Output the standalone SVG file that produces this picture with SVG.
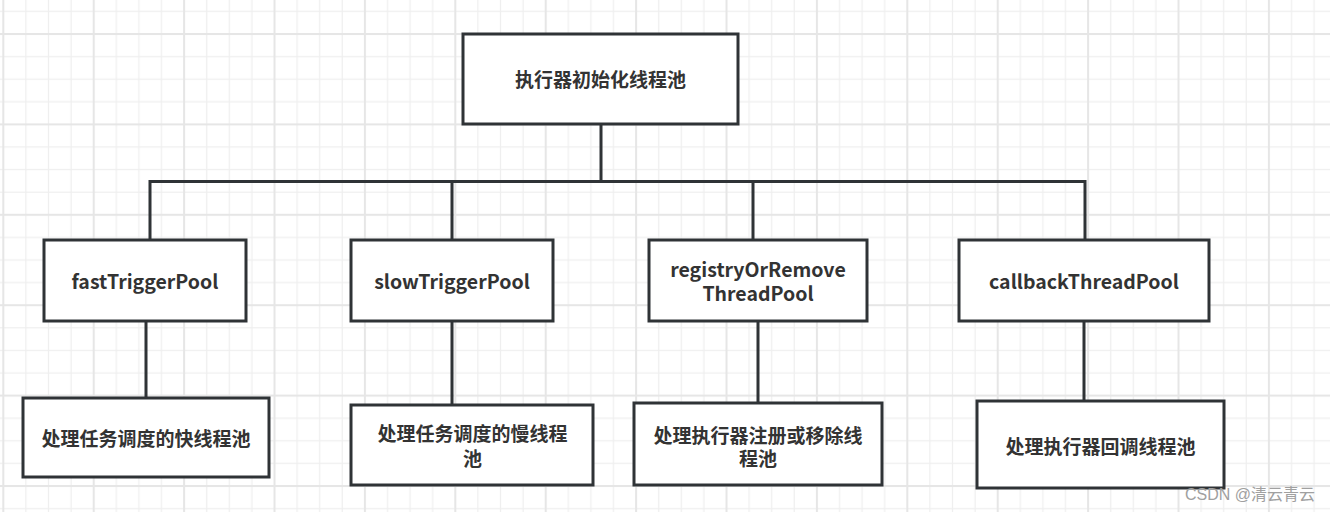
<svg xmlns="http://www.w3.org/2000/svg" width="1330" height="512" viewBox="0 0 1330 512">
<defs>
<pattern id="grid" patternUnits="userSpaceOnUse" x="2.3" y="33" width="90.4" height="90.4">
<rect x="0" y="0" width="90.4" height="90.4" fill="#ffffff"/>
<g fill="#efefef">
<rect x="22.999" y="0" width="1.2" height="90.4"/>
<rect x="45.6" y="0" width="1.2" height="90.4"/>
<rect x="68.2" y="0" width="1.2" height="90.4"/>
<rect x="0" y="23" width="90.4" height="1.2"/>
<rect x="0" y="45.6" width="90.4" height="1.2"/>
<rect x="0" y="68.2" width="90.4" height="1.2"/>
</g>
<g fill="#e6e6e6">
<rect x="0" y="0" width="2" height="90.4"/>
<rect x="0" y="0" width="90.4" height="2"/>
</g>
</pattern>
<style>
.box{fill:#ffffff;stroke:#2f3336;stroke-width:3}
.lbl{font-family:"Noto Sans CJK SC","Noto Sans",sans-serif;font-weight:bold;font-size:19px;fill:#333333;text-anchor:middle;dominant-baseline:central}
.lat{font-size:19.5px}
.conn{fill:none;stroke:#2f3336;stroke-width:3}
.wm{font-family:"Liberation Sans","Noto Sans CJK SC",sans-serif;font-size:16px;fill:#a0a0a0}
</style>
</defs>
<rect x="0" y="0" width="1330" height="512" fill="url(#grid)"/>
<g id="connectors">
<path class="conn" d="M601 124 V181.5 M150 181.5 H1085 M150 180 V240 M452 180 V240 M753 180 V240 M1085 180 V240"/>
<path class="conn" d="M146 321 V398 M452 321 V405 M758 321 V403 M1084 321 V401"/>
</g>
<g id="root">
<rect class="box" x="463" y="34" width="275" height="90"/>
<text class="lbl" x="600.5" y="78.5">执行器初始化线程池</text>
</g>
<g id="fast">
<rect class="box" x="44" y="240" width="202" height="81"/>
<text class="lbl lat" x="145" y="280">fastTriggerPool</text>
</g>
<g id="slow">
<rect class="box" x="351" y="240" width="202" height="81"/>
<text class="lbl lat" x="452" y="280">slowTriggerPool</text>
</g>
<g id="registry">
<rect class="box" x="649" y="240" width="218" height="81"/>
<text class="lbl lat"><tspan x="758" y="268">registryOrRemove</tspan><tspan x="758" y="291.5">ThreadPool</tspan></text>
</g>
<g id="callback">
<rect class="box" x="959" y="240" width="250" height="81"/>
<text class="lbl lat" x="1084" y="280">callbackThreadPool</text>
</g>
<g id="fastDesc">
<rect class="box" x="23" y="398" width="246" height="79"/>
<text class="lbl" x="146" y="437">处理任务调度的快线程池</text>
</g>
<g id="slowDesc">
<rect class="box" x="351" y="405" width="242" height="80"/>
<text class="lbl"><tspan x="472.5" y="432">处理任务调度的慢线程</tspan><tspan x="472.5" y="457">池</tspan></text>
</g>
<g id="registryDesc">
<rect class="box" x="634" y="403" width="248" height="82"/>
<text class="lbl"><tspan x="758" y="433.5">处理执行器注册或移除线</tspan><tspan x="758" y="457">程池</tspan></text>
</g>
<g id="callbackDesc">
<rect class="box" x="977" y="401" width="247" height="87"/>
<text class="lbl" x="1100.5" y="445.5">处理执行器回调线程池</text>
</g>
<text class="wm" x="1315" y="500" text-anchor="end">CSDN @清云青云</text>
</svg>
